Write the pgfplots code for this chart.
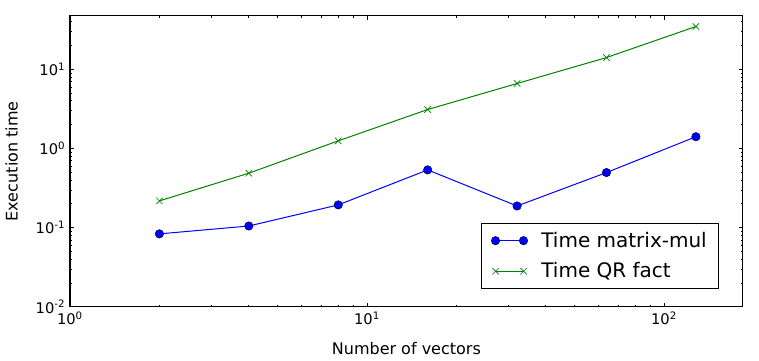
\documentclass[border=0pt]{standalone}
\usepackage{fontspec}
\setmainfont{DejaVu Sans}
\usepackage{pgfplots}
\pgfplotsset{compat=1.18}
\usetikzlibrary{calc}

\definecolor{mplblue}{rgb}{0,0,1}
\definecolor{mplgreen}{rgb}{0,0.5,0}

\begin{document}
\begin{tikzpicture}
\begin{loglogaxis}[
    name=ax,
    scale only axis,
    width=504.5pt, height=218.3pt,
    xmin=1, xmax=184,
    ymin=0.01, ymax=47.6,
    log basis x=10, log basis y=10,
    axis line style={line width=0.8pt},
    tick style={black, line width=0.6pt},
    major tick length=3pt,
    minor tick length=1.6pt,
    tick align=inside,
    xticklabel={10\textsuperscript{\pgfmathprintnumber[assume math mode=true]{\tick}}},
    yticklabel={10\textsuperscript{\pgfmathprintnumber[assume math mode=true]{\tick}}},
    ticklabel style={font=\fontsize{11}{13}\selectfont},
    xlabel={Number of vectors},
    ylabel={Execution time},
    label style={font=\fontsize{12}{14}\selectfont},
    xlabel style={yshift=-6.5pt},
    ylabel style={yshift=6.5pt},
    legend style={
        at={(rel axis cs:0.965,0.063)}, anchor=south east,
        draw=black, line width=0.6pt,
        font=\fontsize{15}{18}\selectfont,
        inner xsep=7pt, inner ysep=4.2pt,
        row sep=6pt,
    },
    legend cell align=left,
    legend image code/.code={
        \path (0pt,0pt) (35pt,0pt);
        \draw plot coordinates {(3pt,0pt) (24pt,0pt)};},
]
\coordinate (bl) at (rel axis cs:0,0);
\coordinate (tr) at (rel axis cs:1,1);

\addplot[mplblue, line width=0.75pt, mark=*,
    mark options={fill=mplblue, draw=black, line width=0.3pt}, mark size=3.2pt]
coordinates {
    (2,0.0835) (4,0.105) (8,0.194) (16,0.537) (32,0.188) (64,0.497) (128,1.41)
};
\addlegendentry{Time matrix-mul}

\addplot[mplgreen, line width=0.75pt, mark=x, mark size=3.4pt,
    mark options={line width=0.5pt}]
coordinates {
    (2,0.218) (4,0.488) (8,1.25) (16,3.11) (32,6.63) (64,14.1) (128,34.8)
};
\addlegendentry{Time QR fact}
\end{loglogaxis}
\pgfresetboundingbox
\path ($(bl)+(-52.5pt,-40pt)$) rectangle ($(tr)+(12.2pt,11.8pt)$);
\end{tikzpicture}
\end{document}
